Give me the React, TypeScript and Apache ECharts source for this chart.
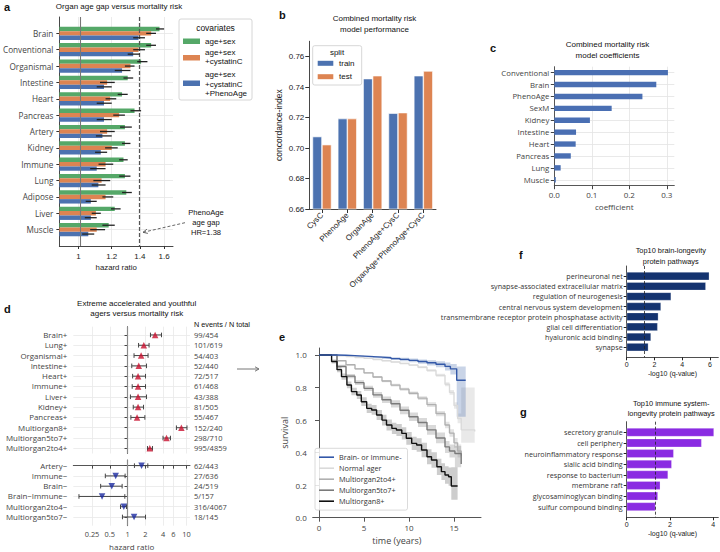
import React, { useEffect, useRef } from 'react';
import * as echarts from 'echarts';

const ARIAL = "'Liberation Sans', Arial, sans-serif";
const OPEN = "'Open Sans', 'Noto Sans', sans-serif";

// ---------- Panel a : organ age gap vs mortality ----------
const organs = ['Brain', 'Conventional', 'Organismal', 'Intestine', 'Heart', 'Pancreas', 'Artery', 'Kidney', 'Immune', 'Lung', 'Adipose', 'Liver', 'Muscle'];
const covariateLabels = ['age+sex', 'age+sex\n+cystatinC', 'age+sex\n+cystatinC\n+PhenoAge'];
const hrAgeSex = [1.56, 1.49, 1.41, 1.31, 1.27, 1.36, 1.29, 1.29, 1.28, 1.29, 1.30, 1.22, 1.18];
const loAgeSex = [1.53, 1.45, 1.38, 1.28, 1.24, 1.33, 1.256, 1.27, 1.25, 1.25, 1.27, 1.195, 1.14];
const hiAgeSex = [1.60, 1.53, 1.46, 1.35, 1.31, 1.41, 1.34, 1.33, 1.31, 1.33, 1.34, 1.26, 1.22];
const hrCystatin = [1.49, 1.39, 1.33, 1.17, 1.19, 1.25, 1.17, 1.20, 1.16, 1.135, 1.16, 1.10, 1.105];
const loCystatin = [1.45, 1.35, 1.29, 1.125, 1.16, 1.21, 1.125, 1.157, 1.116, 1.085, 1.14, 1.075, 1.066];
const hiCystatin = [1.53, 1.44, 1.36, 1.22, 1.23, 1.29, 1.22, 1.24, 1.21, 1.19, 1.21, 1.13, 1.157];
const hrPheno = [1.39, 1.35, 1.27, 1.15, 1.15, 1.15, 1.14, 1.13, 1.105, 1.115, 1.07, 1.07, 1.055];
const loPheno = [1.35, 1.31, 1.22, 1.105, 1.105, 1.105, 1.10, 1.095, 1.066, 1.075, 1.04, 1.035, 1.02];
const hiPheno = [1.44, 1.40, 1.33, 1.20, 1.20, 1.20, 1.20, 1.17, 1.16, 1.16, 1.105, 1.105, 1.09];
const aTicks = [1, 1.2, 1.4, 1.6];
const phenoAgeHR = 1.38;

// ---------- Panel b : model performance ----------
const models = ['CysC', 'PhenoAge', 'OrganAge', 'PhenoAge+CysC', 'OrganAge+PhenoAge+CysC'];
const cTrain = [0.7075, 0.7193, 0.7455, 0.7228, 0.7474];
const cTest = [0.7022, 0.7193, 0.7474, 0.7232, 0.7505];
const bTicks = [0.66, 0.68, 0.70, 0.72, 0.74, 0.76];

// ---------- Panel c : model coefficients ----------
const coefNames = ['Conventional', 'Brain', 'PhenoAge', 'SexM', 'Kidney', 'Intestine', 'Heart', 'Pancreas', 'Lung', 'Muscle'];
const coefValues = [0.303, 0.272, 0.235, 0.153, 0.095, 0.058, 0.057, 0.044, 0.017, 0.004];
const cTicks = [0, 0.1, 0.2, 0.3];

// ---------- Panel d : extreme agers ----------
const accelNames = ['Brain+', 'Lung+', 'Organismal+', 'Intestine+', 'Heart+', 'Immune+', 'Liver+', 'Kidney+', 'Pancreas+', 'Multiorgan8+', 'Multiorgan5to7+', 'Multiorgan2to4+'];
const accelHR = [2.94, 1.89, 1.70, 1.55, 1.51, 1.51, 1.51, 1.51, 1.45, 8.2, 4.58, 2.39];
const accelLo = [2.45, 1.54, 1.29, 1.18, 1.22, 1.20, 1.12, 1.25, 1.14, 6.75, 4.0, 2.18];
const accelHi = [3.77, 2.32, 2.23, 2.10, 2.02, 2.02, 2.10, 1.87, 1.97, 10.2, 5.35, 2.65];
const accelN = ['99/454', '101/619', '54/403', '52/440', '72/517', '61/468', '43/388', '81/505', '55/467', '152/240', '298/710', '995/4859'];
const youthNames = ['Artery\u2212', 'Immune\u2212', 'Brain\u2212', 'Brain\u2212Immune\u2212', 'Multiorgan2to4\u2212', 'Multiorgan5to7\u2212'];
const youthHR = [1.73, 0.63, 0.54, 0.37, 0.866, 1.29];
const youthLo = [1.31, 0.42, 0.35, 0.15, 0.76, 0.82];
const youthHi = [2.21, 0.91, 0.81, 0.90, 0.96, 2.02];
const youthN = ['62/443', '27/636', '24/519', '5/157', '316/4067', '18/145'];
const dTicks = [0.25, 0.5, 1, 2, 4, 6, 10];

// ---------- Panel e : Kaplan-Meier survival ----------
const kmTimeBlue = [0, 1, 2, 3, 4, 5, 6, 7, 8, 9, 10, 11, 12, 13, 14, 14.6, 15.3, 16.3];
const kmSurvBlue = [1, 1, 0.998, 0.996, 0.993, 0.99, 0.987, 0.983, 0.978, 0.973, 0.967, 0.96, 0.952, 0.943, 0.93, 0.915, 0.845, 0.845];
const kmLoBlue = [1, 1, 0.995, 0.992, 0.988, 0.984, 0.98, 0.975, 0.969, 0.962, 0.955, 0.946, 0.936, 0.924, 0.905, 0.88, 0.62, 0.62];
const kmHiBlue = [1, 1, 1, 0.999, 0.997, 0.995, 0.993, 0.99, 0.986, 0.983, 0.978, 0.973, 0.967, 0.961, 0.954, 0.945, 0.93, 0.93];

const kmTimeNormal = [0, 1, 2, 3, 4, 5, 6, 7, 8, 9, 10, 11, 12, 13, 14, 14.5, 15, 15.4, 15.8, 17.3];
const kmSurvNormal = [1, 1, 0.995, 0.99, 0.985, 0.979, 0.972, 0.965, 0.957, 0.948, 0.938, 0.925, 0.905, 0.875, 0.82, 0.77, 0.69, 0.61, 0.54, 0.53];
const kmLoNormal = [1, 1, 0.994, 0.989, 0.983, 0.977, 0.97, 0.962, 0.954, 0.944, 0.933, 0.919, 0.898, 0.866, 0.808, 0.755, 0.67, 0.58, 0.46, 0.46];
const kmHiNormal = [1, 1, 0.996, 0.991, 0.987, 0.981, 0.974, 0.968, 0.96, 0.952, 0.943, 0.931, 0.912, 0.884, 0.832, 0.785, 0.71, 0.64, 0.8, 0.8];

const kmTime2to4 = [0, 1, 2, 3, 4, 5, 6, 7, 8, 9, 10, 11, 12, 13, 14, 14.5, 15, 15.4, 15.8];
const kmSurv2to4 = [1, 1, 0.965, 0.94, 0.915, 0.89, 0.865, 0.84, 0.815, 0.79, 0.765, 0.735, 0.695, 0.64, 0.57, 0.52, 0.46, 0.41, 0.38];
const kmLo2to4 = [1, 1, 0.962, 0.936, 0.91, 0.885, 0.859, 0.833, 0.807, 0.781, 0.755, 0.723, 0.681, 0.624, 0.55, 0.497, 0.43, 0.37, 0.3];
const kmHi2to4 = [1, 1, 0.968, 0.944, 0.92, 0.895, 0.871, 0.847, 0.823, 0.799, 0.775, 0.747, 0.709, 0.656, 0.59, 0.543, 0.49, 0.45, 0.46];

const kmTime5to7 = [0, 1, 2, 3, 4, 5, 6, 7, 8, 9, 10, 11, 12, 13, 14, 14.5, 15.1, 15.8];
const kmSurv5to7 = [1, 1, 0.93, 0.87, 0.83, 0.795, 0.755, 0.725, 0.7, 0.66, 0.62, 0.585, 0.54, 0.49, 0.435, 0.41, 0.395, 0.33];
const kmLo5to7 = [1, 1, 0.92, 0.857, 0.815, 0.779, 0.737, 0.705, 0.678, 0.636, 0.594, 0.557, 0.51, 0.457, 0.398, 0.37, 0.31, 0.25];
const kmHi5to7 = [1, 1, 0.94, 0.883, 0.845, 0.811, 0.773, 0.745, 0.722, 0.684, 0.646, 0.613, 0.57, 0.523, 0.472, 0.45, 0.44, 0.41];

const kmTime8 = [0, 1, 1.4, 2, 2.5, 3.1, 3.6, 4.2, 4.7, 5.3, 5.85, 6.4, 7, 7.5, 8.1, 8.6, 9.2, 9.7, 10.3, 10.85, 11.4, 12, 12.5, 13.1, 13.6, 14, 14.4, 14.7, 15.4];
const kmSurv8 = [1, 1, 0.96, 0.91, 0.867, 0.816, 0.775, 0.754, 0.713, 0.672, 0.662, 0.631, 0.6, 0.57, 0.549, 0.539, 0.518, 0.488, 0.457, 0.447, 0.416, 0.375, 0.355, 0.313, 0.283, 0.262, 0.252, 0.195, 0.195];
const kmLo8 = [1, 1, 0.948, 0.894, 0.848, 0.795, 0.752, 0.729, 0.686, 0.644, 0.632, 0.6, 0.567, 0.536, 0.514, 0.502, 0.48, 0.449, 0.416, 0.405, 0.372, 0.329, 0.307, 0.263, 0.231, 0.208, 0.196, 0.11, 0.11];
const kmHi8 = [1, 1, 0.972, 0.926, 0.886, 0.837, 0.798, 0.779, 0.74, 0.7, 0.692, 0.662, 0.633, 0.604, 0.584, 0.576, 0.556, 0.527, 0.498, 0.489, 0.46, 0.421, 0.403, 0.363, 0.335, 0.316, 0.308, 0.31, 0.31];
const eXTicks = [0, 5, 10, 15];
const eYTicks = [0, 0.2, 0.4, 0.6, 0.8, 1.0];

// ---------- Panels f, g : pathways ----------
const brainPathways = ['perineuronal net', 'synapse-associated extracellular matrix', 'regulation of neurogenesis', 'central nervous system development', 'transmembrane receptor protein phosphatase activity', 'glial cell differentiation', 'hyaluronic acid binding', 'synapse'];
const brainQ = [5.95, 5.7, 3.2, 2.47, 2.28, 2.23, 1.75, 1.56];
const immunePathways = ['secretory granule', 'cell periphery', 'neuroinflammatory response', 'sialic acid binding', 'response to bacterium', 'membrane raft', 'glycosaminoglycan binding', 'sulfur compound binding'];
const immuneQ = [4.03, 3.46, 2.17, 2.08, 1.91, 1.55, 1.44, 1.33];
const fTicks = [0, 2, 4, 6];
const gTicks = [0, 2, 4];
const qThreshold = 0.05;

const A0 = Math.log10(0.9);
const toA = (h: number) => Math.log10(h) - A0;
const lg = (v: number) => Math.log10(v);

function txt(x: number, y: number, text: string, size: number, opts: any = {}) {
  return {
    type: 'text', x, y, z: 100,
    style: {
      text, fill: opts.fill || '#111', fontSize: size, fontFamily: opts.family || ARIAL,
      fontWeight: opts.weight || 'normal', align: opts.align || 'center', verticalAlign: 'middle',
      lineHeight: opts.lh || size * 1.3,
    },
  };
}

function buildOption(): any {
  const series: any[] = [];
  const aDefs = [
    { name: covariateLabels[0], color: '#55a868', hr: hrAgeSex, lo: loAgeSex, hi: hiAgeSex },
    { name: covariateLabels[1], color: '#dd8452', hr: hrCystatin, lo: loCystatin, hi: hiCystatin },
    { name: covariateLabels[2], color: '#4c72b0', hr: hrPheno, lo: loPheno, hi: hiPheno },
  ];
  aDefs.forEach((d, k) => {
    series.push({
      type: 'bar', name: d.name, xAxisIndex: 0, yAxisIndex: 0,
      data: organs.map((o, i) => [toA(d.hr[i]), o]),
      barCategoryGap: '19%', barGap: '0%',
      itemStyle: { color: d.color },
      markLine: k === 0 ? {
        silent: true, symbol: 'none', label: { show: false },
        data: [
          { xAxis: toA(1), lineStyle: { color: '#777', width: 1.1, type: 'solid' } },
          { xAxis: toA(phenoAgeHR), lineStyle: { color: '#555', width: 1.2, type: [4, 2] } },
        ],
      } : undefined,
    });
  });
  aDefs.forEach((d, k) => {
    series.push({
      type: 'custom', xAxisIndex: 0, yAxisIndex: 0, z: 6, silent: true,
      encode: { x: [0, 1], y: 2 },
      data: organs.map((o, i) => [toA(d.lo[i]), toA(d.hi[i]), o]),
      renderItem: (p: any, api: any) => {
        const c = api.value(2);
        const p1 = api.coord([api.value(0), c]);
        const p2 = api.coord([api.value(1), c]);
        const band = api.size([0, 1])[1];
        const off = (k - 1) * band * 0.81 / 3;
        return { type: 'line', shape: { x1: p1[0], y1: p1[1] + off, x2: p2[0], y2: p2[1] + off }, style: { stroke: '#222', lineWidth: 1.3 } };
      },
    });
  });

  // panel b
  series.push({ type: 'bar', name: 'train', xAxisIndex: 1, yAxisIndex: 1, data: cTrain, barCategoryGap: '25%', barGap: '0%', itemStyle: { color: '#4c72b0', borderColor: '#fff', borderWidth: 0.6 } });
  series.push({ type: 'bar', name: 'test', xAxisIndex: 1, yAxisIndex: 1, data: cTest, barCategoryGap: '25%', barGap: '0%', itemStyle: { color: '#dd8452', borderColor: '#fff', borderWidth: 0.6 } });

  // panel c
  series.push({
    type: 'line', xAxisIndex: 2, yAxisIndex: 2, data: [], z: 0, silent: true,
    markLine: { z: 0, silent: true, symbol: 'none', label: { show: false }, lineStyle: { color: '#e3e3e3', width: 0.8, type: 'solid' }, data: coefNames.map((n) => ({ yAxis: n })) },
  });
  series.push({ type: 'bar', xAxisIndex: 2, yAxisIndex: 2, data: coefValues, barWidth: '45%', itemStyle: { color: '#4a6fb3' }, z: 2 });

  // panel d
  const dGroups = [
    { ax: 3, hr: accelHR, lo: accelLo, hi: accelHi, color: '#c8102e', rot: 0 },
    { ax: 4, hr: youthHR, lo: youthLo, hi: youthHi, color: '#1c2ba0', rot: 180 },
  ];
  dGroups.forEach((g) => {
    series.push({
      type: 'line', xAxisIndex: g.ax, yAxisIndex: g.ax, data: [], z: 1, silent: true,
      markLine: { z: 1, silent: true, symbol: 'none', label: { show: false }, lineStyle: { color: '#8a8a8a', width: 1.2, type: 'solid' }, data: [{ xAxis: 0 }] },
    });
    series.push({
      type: 'custom', xAxisIndex: g.ax, yAxisIndex: g.ax, z: 3, silent: true,
      encode: { x: [0, 1], y: 2 },
      data: g.hr.map((h, i) => [lg(g.lo[i]), lg(g.hi[i]), i]),
      renderItem: (p: any, api: any) => {
        const y = api.value(2);
        const a = api.coord([api.value(0), y]);
        const b = api.coord([api.value(1), y]);
        const h = 2.3;
        const st = { stroke: '#444', lineWidth: 1 };
        return {
          type: 'group', children: [
            { type: 'line', shape: { x1: a[0], y1: a[1], x2: b[0], y2: b[1] }, style: st },
            { type: 'line', shape: { x1: a[0], y1: a[1] - h, x2: a[0], y2: a[1] + h }, style: st },
            { type: 'line', shape: { x1: b[0], y1: b[1] - h, x2: b[0], y2: b[1] + h }, style: st },
          ],
        };
      },
    });
    series.push({
      type: 'scatter', xAxisIndex: g.ax, yAxisIndex: g.ax, z: 4,
      data: g.hr.map((h, i) => [lg(h), i]),
      symbol: 'triangle', symbolSize: 6.5, symbolRotate: g.rot,
      itemStyle: { color: g.color },
    });
  });

  // panel e
  const kmGroups = [
    { name: 'Normal ager', t: kmTimeNormal, s: kmSurvNormal, lo: kmLoNormal, hi: kmHiNormal, color: '#dadada', band: 'rgba(200,200,200,0.4)' },
    { name: 'Multiorgan2to4+', t: kmTime2to4, s: kmSurv2to4, lo: kmLo2to4, hi: kmHi2to4, color: '#b0b0b0', band: 'rgba(175,175,175,0.35)' },
    { name: 'Multiorgan5to7+', t: kmTime5to7, s: kmSurv5to7, lo: kmLo5to7, hi: kmHi5to7, color: '#7a7a7a', band: 'rgba(130,130,130,0.3)' },
    { name: 'Multiorgan8+', t: kmTime8, s: kmSurv8, lo: kmLo8, hi: kmHi8, color: '#111111', band: 'rgba(90,90,90,0.3)' },
    { name: 'Brain- or Immune-', t: kmTimeBlue, s: kmSurvBlue, lo: kmLoBlue, hi: kmHiBlue, color: '#3358a8', band: 'rgba(76,114,176,0.3)' },
  ];
  kmGroups.forEach((g) => {
    const n = g.t.length;
    series.push({
      type: 'custom', xAxisIndex: 5, yAxisIndex: 5, silent: true, z: 1,
      encode: { x: [0, 1], y: [2, 3] },
      data: [[g.t[0], g.t[n - 1], Math.min(...g.lo), Math.max(...g.hi)]],
      renderItem: (p: any, api: any) => {
        const pts: number[][] = [];
        for (let j = 0; j < n - 1; j++) {
          pts.push(api.coord([g.t[j], g.hi[j]]));
          pts.push(api.coord([g.t[j + 1], g.hi[j]]));
        }
        pts.push(api.coord([g.t[n - 1], g.hi[n - 1]]));
        pts.push(api.coord([g.t[n - 1], g.lo[n - 1]]));
        for (let j = n - 2; j >= 0; j--) {
          pts.push(api.coord([g.t[j + 1], g.lo[j]]));
          pts.push(api.coord([g.t[j], g.lo[j]]));
        }
        return { type: 'polygon', shape: { points: pts }, style: { fill: g.band, stroke: 'none' } };
      },
    });
  });
  kmGroups.forEach((g) => {
    series.push({ type: 'line', name: g.name, xAxisIndex: 5, yAxisIndex: 5, step: 'end', symbol: 'none', showSymbol: false, lineStyle: { color: g.color, width: 1.4 }, itemStyle: { color: g.color }, data: g.t.map((t, j) => [t, g.s[j]]), z: 3 });
  });

  // panels f, g
  const thr = -Math.log10(qThreshold);
  [{ ax: 6, names: brainPathways, v: brainQ, color: '#14336f' }, { ax: 7, names: immunePathways, v: immuneQ, color: '#8a2be2' }].forEach((g) => {
    series.push({
      type: 'bar', xAxisIndex: g.ax, yAxisIndex: g.ax, data: g.names.map((n, i) => [g.v[i], n]),
      barCategoryGap: '20%', itemStyle: { color: g.color, borderColor: 'rgba(255,255,255,0.5)', borderWidth: 0.5 },
      markLine: { silent: true, symbol: 'none', label: { show: false }, lineStyle: { color: '#222', width: 0.8, type: [3, 2] }, data: [{ xAxis: thr }] },
    });
  });

  const fmtA = (v: number) => String(Number((0.9 * Math.pow(10, v)).toFixed(2)));
  const fmtD = (v: number) => String(Number(Math.pow(10, v).toPrecision(2)));
  const padA = ['', ...organs, ''];
  const padF = ['', ...brainPathways, ''];
  const padG = ['', ...immunePathways, ''];
  const inner = (n: number) => (i: number) => i > 0 && i < n - 1;

  const grid = [
    { left: 59, top: 17, width: 114, height: 229 },
    { left: 309.3, top: 41.25, width: 126.7, height: 167.75 },
    { left: 554.3, top: 66.7, width: 120, height: 119 },
    { left: 73.3, top: 326.7, width: 116.7, height: 126.8 },
    { left: 73.3, top: 460, width: 116.7, height: 65.7 },
    { left: 312.7, top: 348, width: 168.3, height: 169.7 },
    { left: 626.7, top: 266, width: 91.6, height: 91.3 },
    { left: 626.7, top: 421.7, width: 91.6, height: 95.6 },
  ];

  const axLine = (c = '#333', w = 0.9) => ({ show: true, lineStyle: { color: c, width: w } });
  const nameStyle = (size: number, fam: string) => ({ fontSize: size, fontFamily: fam, color: '#222' });

  const xAxis: any[] = [
    { gridIndex: 0, type: 'value', min: 0, max: toA(1.68), axisLine: axLine(),
      axisTick: { show: true, length: 3, customValues: aTicks.map(toA), lineStyle: { color: '#333' } },
      axisLabel: { customValues: aTicks.map(toA), formatter: fmtA, fontSize: 8, fontFamily: ARIAL, color: '#222', margin: 6 },
      splitLine: { show: true, lineStyle: { color: '#e6e6e6', width: 0.8 } },
      name: 'hazard ratio', nameLocation: 'middle', nameGap: 17, nameTextStyle: nameStyle(7.8, ARIAL) },
    { gridIndex: 1, type: 'category', data: models, axisLine: axLine(),
      axisTick: { show: true, length: 4, alignWithLabel: true, lineStyle: { color: '#333' } },
      axisLabel: { rotate: 45, interval: 0, fontSize: 8, fontFamily: ARIAL, color: '#222', margin: 5 }, splitLine: { show: false } },
    { gridIndex: 2, type: 'value', min: 0, max: 0.32, axisLine: axLine('#444'),
      axisTick: { show: true, length: 3.5, customValues: cTicks, lineStyle: { color: '#444' } },
      axisLabel: { customValues: cTicks, formatter: (v: number) => v.toFixed(1), fontSize: 8, fontFamily: OPEN, color: '#444', margin: 5 },
      splitLine: { show: true, lineStyle: { color: '#e3e3e3', width: 0.8 } },
      name: 'coefficient', nameLocation: 'middle', nameGap: 17, nameTextStyle: { ...nameStyle(8, OPEN), color: '#444' } },
    { gridIndex: 3, type: 'value', min: -0.92, max: 1.06, axisLine: { show: false },
      axisTick: { show: false, customValues: dTicks.map(lg) }, axisLabel: { show: false },
      splitLine: { show: true, lineStyle: { color: '#e8e8e8', width: 0.8 } } },
    { gridIndex: 4, type: 'value', min: -0.92, max: 1.06, axisLine: axLine('#444'),
      axisTick: { show: true, length: 3, customValues: dTicks.map(lg), lineStyle: { color: '#444' } },
      axisLabel: { customValues: dTicks.map(lg), formatter: fmtD, fontSize: 7.4, fontFamily: OPEN, color: '#444', margin: 5 },
      splitLine: { show: true, lineStyle: { color: '#e8e8e8', width: 0.8 } },
      name: 'hazard ratio', nameLocation: 'middle', nameGap: 17, nameTextStyle: { ...nameStyle(8, OPEN), color: '#444' } },
    { gridIndex: 5, type: 'value', min: -0.7, max: 18, axisLine: axLine('#555', 1),
      axisTick: { show: true, length: 4, customValues: eXTicks, lineStyle: { color: '#555' } },
      axisLabel: { customValues: eXTicks, fontSize: 8, fontFamily: OPEN, color: '#444', margin: 6 },
      splitLine: { show: false },
      name: 'time (years)', nameLocation: 'middle', nameGap: 18, nameTextStyle: { ...nameStyle(9, OPEN), color: '#444' } },
    { gridIndex: 6, type: 'value', min: 0, max: 6.6, axisLine: axLine('#222', 0.8),
      axisTick: { show: true, length: 3, customValues: fTicks, lineStyle: { color: '#222' } },
      axisLabel: { customValues: fTicks, fontSize: 7, fontFamily: ARIAL, color: '#222', margin: 4 },
      splitLine: { show: false },
      name: '-log10 (q-value)', nameLocation: 'middle', nameGap: 13, nameTextStyle: nameStyle(7, ARIAL) },
    { gridIndex: 7, type: 'value', min: 0, max: 4.23, axisLine: axLine('#222', 0.8),
      axisTick: { show: true, length: 3, customValues: gTicks, lineStyle: { color: '#222' } },
      axisLabel: { customValues: gTicks, fontSize: 7, fontFamily: ARIAL, color: '#222', margin: 4 },
      splitLine: { show: false },
      name: '-log10 (q-value)', nameLocation: 'middle', nameGap: 13, nameTextStyle: nameStyle(7, ARIAL) },
  ];

  const rows = (n: number) => Array.from({ length: n }, (_, i) => i);
  const yAxis: any[] = [
    { gridIndex: 0, type: 'category', data: padA, inverse: true, boundaryGap: false, axisLine: axLine(),
      axisTick: { show: true, length: 3, interval: inner(padA.length), lineStyle: { color: '#333' } },
      axisLabel: { interval: inner(padA.length), fontSize: 8.2, fontFamily: OPEN, color: '#444', margin: 6 },
      splitLine: { show: true, interval: inner(padA.length), lineStyle: { color: '#e6e6e6', width: 0.8 } } },
    { gridIndex: 1, type: 'value', min: 0.66, max: 0.77, axisLine: axLine(),
      axisTick: { show: true, length: 4, customValues: bTicks, lineStyle: { color: '#333' } },
      axisLabel: { customValues: bTicks, formatter: (v: number) => v.toFixed(2), fontSize: 8, fontFamily: ARIAL, color: '#222', margin: 5 },
      splitLine: { show: false },
      name: 'concordance-index', nameLocation: 'middle', nameGap: 26, nameTextStyle: nameStyle(8.5, ARIAL) },
    { gridIndex: 2, type: 'category', data: coefNames, inverse: true, axisLine: axLine('#444'),
      axisTick: { show: true, length: 3.5, alignWithLabel: true, lineStyle: { color: '#444' } },
      axisLabel: { interval: 0, fontSize: 7.8, fontFamily: OPEN, color: '#444', margin: 5 }, splitLine: { show: false } },
    { gridIndex: 3, type: 'value', min: -0.8, max: 11.5, inverse: true, axisLine: axLine('#444'),
      axisTick: { show: true, length: 3, customValues: rows(accelNames.length), lineStyle: { color: '#444' } },
      axisLabel: { customValues: rows(accelNames.length), formatter: (v: number) => accelNames[v] ?? '', fontSize: 7.9, fontFamily: OPEN, color: '#444', margin: 6 },
      splitLine: { show: true, lineStyle: { color: '#e8e8e8', width: 0.8 } } },
    { gridIndex: 4, type: 'value', min: -0.55, max: 5.85, inverse: true, axisLine: axLine('#444'),
      axisTick: { show: true, length: 3, customValues: rows(youthNames.length), lineStyle: { color: '#444' } },
      axisLabel: { customValues: rows(youthNames.length), formatter: (v: number) => youthNames[v] ?? '', fontSize: 7.9, fontFamily: OPEN, color: '#444', margin: 6 },
      splitLine: { show: true, lineStyle: { color: '#e8e8e8', width: 0.8 } } },
    { gridIndex: 5, type: 'value', min: 0, max: 1.043, axisLine: axLine('#555', 1),
      axisTick: { show: true, length: 4, customValues: eYTicks, lineStyle: { color: '#555' } },
      axisLabel: { customValues: eYTicks, formatter: (v: number) => v.toFixed(1), fontSize: 8, fontFamily: OPEN, color: '#444', margin: 6 },
      splitLine: { show: false },
      name: 'survival', nameLocation: 'middle', nameGap: 24, nameTextStyle: { ...nameStyle(9, OPEN), color: '#444' } },
    { gridIndex: 6, type: 'category', data: padF, inverse: true, boundaryGap: false, axisLine: axLine('#222', 0.8),
      axisTick: { show: true, length: 3, interval: inner(padF.length), lineStyle: { color: '#222' } },
      axisLabel: { interval: inner(padF.length), fontSize: 7.2, fontFamily: OPEN, color: '#333', margin: 4 }, splitLine: { show: false } },
    { gridIndex: 7, type: 'category', data: padG, inverse: true, boundaryGap: false, axisLine: axLine('#222', 0.8),
      axisTick: { show: true, length: 3, interval: inner(padG.length), lineStyle: { color: '#222' } },
      axisLabel: { interval: inner(padG.length), fontSize: 7.2, fontFamily: OPEN, color: '#333', margin: 4 }, splitLine: { show: false } },
    { gridIndex: 3, type: 'value', position: 'right', min: -0.8, max: 11.5, inverse: true, axisLine: { show: false }, axisTick: { show: false },
      axisLabel: { customValues: rows(accelN.length), formatter: (v: number) => accelN[v] ?? '', fontSize: 7.5, fontFamily: OPEN, color: '#444', margin: 4 },
      splitLine: { show: false } },
    { gridIndex: 4, type: 'value', position: 'right', min: -0.55, max: 5.85, inverse: true, axisLine: { show: false }, axisTick: { show: false },
      axisLabel: { customValues: rows(youthN.length), formatter: (v: number) => youthN[v] ?? '', fontSize: 7.5, fontFamily: OPEN, color: '#444', margin: 4 },
      splitLine: { show: false } },
  ];

  const graphic: any[] = [
    // panel letters
    txt(4, 7, 'a', 11, { weight: 'bold', align: 'left' }),
    txt(279, 15, 'b', 11, { weight: 'bold', align: 'left' }),
    txt(490, 47.5, 'c', 11, { weight: 'bold', align: 'left' }),
    txt(4, 309, 'd', 11, { weight: 'bold', align: 'left' }),
    txt(279, 337, 'e', 11, { weight: 'bold', align: 'left' }),
    txt(519, 255, 'f', 11, { weight: 'bold', align: 'left' }),
    txt(520, 411.5, 'g', 11, { weight: 'bold', align: 'left' }),
    // titles
    txt(119, 6, 'Organ age gap versus mortality risk', 8),
    txt(374.5, 23.8, 'Combined mortality risk\nmodel performance', 8, { lh: 11 }),
    txt(607.5, 50.2, 'Combined mortality risk\nmodel coefficients', 8, { lh: 10.5 }),
    txt(136.7, 308.7, 'Extreme accelerated and youthful\nagers versus mortality risk', 8, { lh: 9.5 }),
    txt(670.8, 256.2, 'Top10 brain-longevity\nprotein pathways', 7.4, { lh: 11 }),
    txt(671.2, 408.7, 'Top10 immune system-\nlongevity protein pathways', 7.4, { lh: 9.5 }),
    // panel a legend
    { type: 'rect', z: 99, shape: { x: 179, y: 19, width: 73, height: 81, r: 2 }, style: { fill: 'rgba(255,255,255,0.9)', stroke: '#cccccc', lineWidth: 0.8 } },
    txt(215.5, 28, 'covariates', 8.5),
    { type: 'rect', z: 100, shape: { x: 183, y: 38.5, width: 17, height: 5.5 }, style: { fill: '#55a868' } },
    { type: 'rect', z: 100, shape: { x: 183, y: 55, width: 17, height: 5.5 }, style: { fill: '#dd8452' } },
    { type: 'rect', z: 100, shape: { x: 183, y: 80.5, width: 17, height: 5.5 }, style: { fill: '#4c72b0' } },
    txt(205, 41.2, covariateLabels[0], 8, { align: 'left' }),
    txt(205, 57.2, covariateLabels[1], 8, { align: 'left', lh: 9.6 }),
    txt(205, 84.3, covariateLabels[2], 8, { align: 'left', lh: 9.4 }),
    // panel a annotation
    txt(206, 222.5, 'PhenoAge\nage gap\nHR=' + phenoAgeHR.toFixed(2), 7.6, { lh: 9.6 }),
    { type: 'line', z: 100, shape: { x1: 185, y1: 222.7, x2: 143.5, y2: 232.2 }, style: { stroke: '#555', lineWidth: 0.9, lineDash: [3, 2] } },
    { type: 'polyline', z: 100, shape: { points: [[147.9, 233.4], [143, 232.3], [146.9, 229.2]] }, style: { stroke: '#555', lineWidth: 0.9, fill: 'none' } },
    // panel b legend
    { type: 'rect', z: 99, shape: { x: 312.7, y: 45.7, width: 49, height: 39.3, r: 2 }, style: { fill: 'rgba(255,255,255,0.9)', stroke: '#cccccc', lineWidth: 0.8 } },
    txt(337, 52, 'split', 8),
    { type: 'rect', z: 100, shape: { x: 317.7, y: 60.8, width: 15.6, height: 5 }, style: { fill: '#4c72b0' } },
    { type: 'rect', z: 100, shape: { x: 317.7, y: 74.2, width: 15.6, height: 5 }, style: { fill: '#dd8452' } },
    txt(339, 63.3, 'train', 8, { align: 'left' }),
    txt(339, 76.7, 'test', 8, { align: 'left' }),
    // panel d header
    txt(194, 324.3, 'N events / N total', 7.3, { align: 'left' }),
    // arrow d -> e
    { type: 'line', z: 100, shape: { x1: 237, y1: 369, x2: 258.5, y2: 369 }, style: { stroke: '#666', lineWidth: 0.9 } },
    { type: 'polyline', z: 100, shape: { points: [[255, 366.8], [259, 369], [255, 371.2]] }, style: { stroke: '#666', lineWidth: 0.9, fill: 'none' } },
  ];

  return {
    animation: false,
    backgroundColor: '#ffffff',
    grid, xAxis, yAxis, series, graphic,
    legend: {
      data: ['Brain- or Immune-', 'Normal ager', 'Multiorgan2to4+', 'Multiorgan5to7+', 'Multiorgan8+'],
      left: 315, top: 448.3, orient: 'vertical', icon: 'rect', itemWidth: 15, itemHeight: 1.6, itemGap: 2.2,
      padding: [4.5, 6, 4.5, 4], borderColor: '#d0d0d0', borderWidth: 0.8, borderRadius: 2,
      backgroundColor: 'rgba(255,255,255,0.85)', selectedMode: false,
      textStyle: { fontSize: 7.3, fontFamily: OPEN, color: '#333', lineHeight: 8.8 },
    },
  };
}

export default function App() {
  const ref = useRef<HTMLDivElement>(null);
  useEffect(() => {
    const chart = echarts.init(ref.current as HTMLDivElement, null, { renderer: 'svg' });
    chart.setOption(buildOption());
    return () => chart.dispose();
  }, []);
  return <div ref={ref} style={{ position: 'fixed', left: 0, top: 0, width: 720, height: 552, background: '#fff' }} />;
}
